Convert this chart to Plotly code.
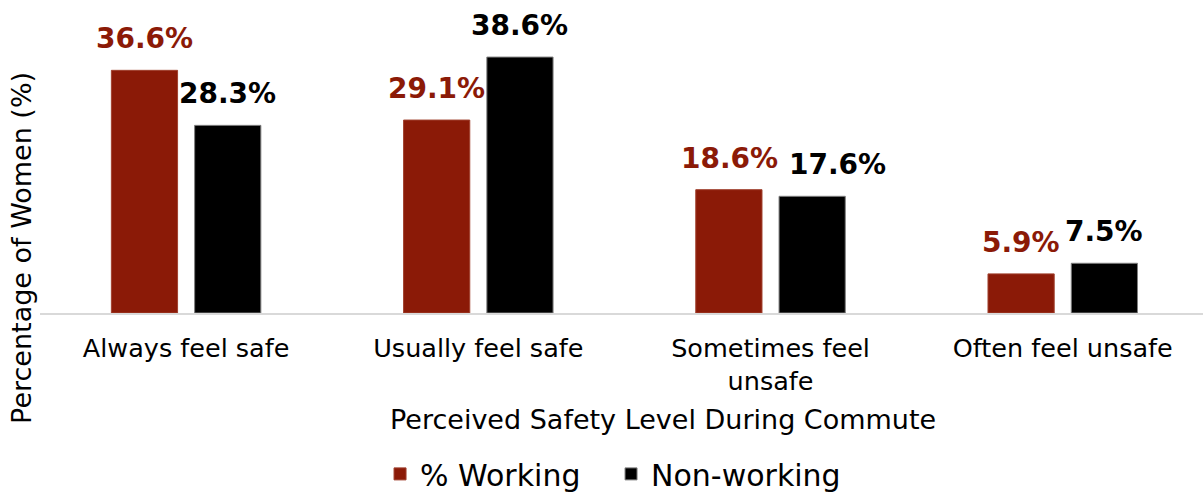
import plotly.graph_objects as go

# Survey results: perceived safety of women during their commute
categories = ["Always feel safe", "Usually feel safe", "Sometimes feel<br>unsafe", "Often feel unsafe"]
working = [36.6, 29.1, 18.6, 5.9]
non_working = [28.3, 38.6, 17.6, 7.5]
series_names = ["% Working", "Non-working"]

RED = "#8B1A07"
BLACK = "#000000"
FONT = "DejaVu Sans"

fig = go.Figure()
fig.add_trace(go.Bar(
    x=categories, y=working, name=series_names[0],
    marker=dict(color=RED, line=dict(color="#A0402E", width=1)),
))
fig.add_trace(go.Bar(
    x=categories, y=non_working, name=series_names[1],
    marker=dict(color=BLACK, line=dict(color="#7F7F7F", width=1)),
))

# value labels above each bar (half a slot left/right of the group centre);
# the third black label is nudged right so it clears its neighbour
shift = 41.5
nudge = {(1, 2): 25}
for s, (vals, color) in enumerate([(working, RED), (non_working, BLACK)]):
    base = -shift if s == 0 else shift
    for i, (c, v) in enumerate(zip(categories, vals)):
        fig.add_annotation(
            x=c, y=v, xref="x", yref="y", text=f"{v:.1f}%",
            showarrow=False, xanchor="center", yanchor="bottom",
            xshift=base + nudge.get((s, i), 0), yshift=13,
            font=dict(family=FONT, size=28, color=color, weight="bold"),
        )

# axis titles
fig.add_annotation(
    x=0.536, y=-0.353, xref="paper", yref="paper",
    text="Perceived Safety Level During Commute", showarrow=False,
    xanchor="center", yanchor="middle",
    font=dict(family=FONT, size=27, color="#000000"),
)
fig.add_annotation(
    x=-0.016, y=0.216, xref="paper", yref="paper",
    text="Percentage of Women (%)", showarrow=False, textangle=-90,
    xanchor="center", yanchor="middle",
    font=dict(family=FONT, size=27, color="#000000"),
)

fig.update_layout(
    width=1203, height=492,
    margin=dict(l=40, r=0, t=10, b=179, autoexpand=False),
    paper_bgcolor="white", plot_bgcolor="white",
    barmode="group", bargap=0.43, bargroupgap=0.205,
    font=dict(family=FONT, size=25.5, color="#000000"),
    showlegend=True,
    legend=dict(
        orientation="h", x=0.491, xanchor="center", y=-0.531, yanchor="middle",
        font=dict(family=FONT, size=30, color="#000000"),
        entrywidth=186, itemclick=False,
    ),
    xaxis=dict(
        range=[-0.5, 3.48], automargin=False,
        showline=True, linecolor="#D9D9D9", linewidth=2,
        ticks="", showgrid=False, zeroline=False,
        ticklabelstandoff=11,
        tickfont=dict(family=FONT, size=25.5, color="#000000"),
    ),
    yaxis=dict(
        range=[0, 45.7], automargin=False,
        showticklabels=False, showgrid=False,
        zeroline=False, showline=False, ticks="",
    ),
)

fig.write_html("out.html")
